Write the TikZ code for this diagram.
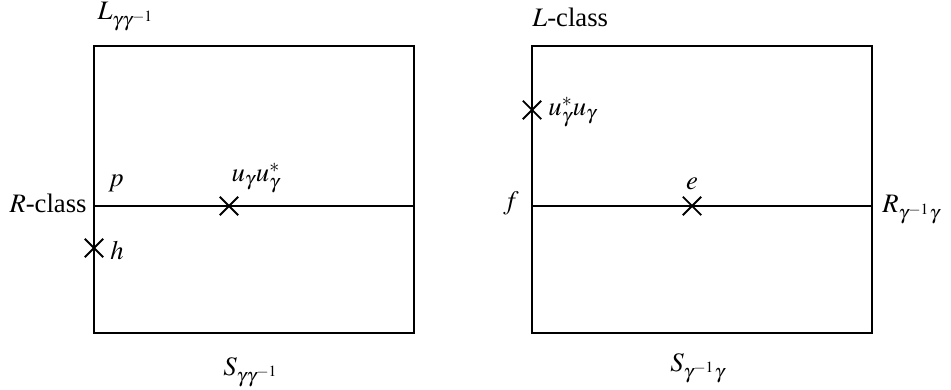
\documentclass[12pt,tikz,border=0pt]{standalone}
\usepackage{mathptmx}
\usepackage{fontspec}
\setmainfont{Liberation Serif}
\usetikzlibrary{calc, shapes.misc}

\begin{document}
\begin{tikzpicture}[x=0.45pt, y=-0.45pt,
    crossmark/.style = {cross out, draw, line width=0.8pt, minimum size=7.5pt, inner sep=0pt},
    boxline/.style = {line width=0.9pt}]
\def\boxTop{46}
\def\boxBot{333}
\def\midLine{206}

    \useasboundingbox (0,0) rectangle (951,390);

    %Left box
    \coordinate (A) at (94,\boxTop);
    \coordinate (B) at (414,\boxBot);
    \draw[boxline] (A) rectangle (B);
    \draw[boxline] (94,\midLine) coordinate (P) -- (414,\midLine) coordinate (Q);

    %Right box
    \coordinate (C) at (532,\boxTop);
    \coordinate (D) at (872,\boxBot);
    \draw[boxline] (C) rectangle (D);
    \draw[boxline] (532,\midLine) coordinate (F) -- (872,\midLine) coordinate (G);

    %Crosses
    \node[crossmark] (U) at (229,\midLine) {};
    \node[crossmark] (H) at (94,248) {};
    \node[crossmark] (V) at (532,110) {};
    \node[crossmark] (E) at (692,\midLine) {};

    %Labels
    \node at (126,17) {$L_{\gamma\gamma^{-1}}$};
    \node[anchor = west, inner sep=0pt] at (532,17) {$L$-class};
    \node[anchor = base east, inner sep=0pt] at (87,213) {$R$-class};
    \node at (116,183) {$p$};
    \node at (256,178) {$u_\gamma u_\gamma^*$};
    \node[anchor = west, inner sep=0pt] at (110,250) {$h$};
    \node at (251,372) {$S_{\gamma\gamma^{-1}}$};
    \node[anchor = west, inner sep=0pt] at (548,112) {$u_\gamma^* u_\gamma$};
    \node at (511,203) {$f$};
    \node at (692,184) {$e$};
    \node[anchor = west, inner sep=0pt] at (882,210) {$R_{\gamma^{-1}\gamma}$};
    \node at (698,368) {$S_{\gamma^{-1}\gamma}$};
\end{tikzpicture}
\end{document}
